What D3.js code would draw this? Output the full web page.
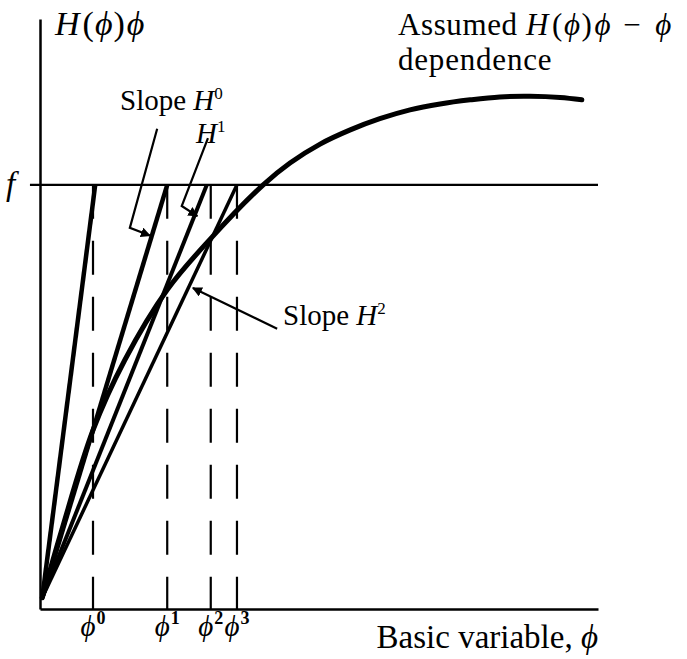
<!DOCTYPE html>
<html>
<head>
<meta charset="utf-8">
<script src="https://cdn.jsdelivr.net/npm/d3@7"></script>
<style>
  body { margin: 0; background: #fff; }
  svg text, svg tspan { font-family: "Liberation Serif", "DejaVu Serif", serif; fill: #000; }
  .it { font-style: italic; }
</style>
</head>
<body>
<svg id="chart" width="687" height="659"></svg>
<script>
// assumed H(phi)phi - phi curve
var curvePhi  = [0.04, 0.39, 0.95, 1.52, 2.28, 3.05, 4.00, 4.48, 5.02, 5.56, 6.09, 6.63, 7.17, 7.71, 8.24, 8.78, 9.32, 9.71];
var curveHphi = [0.19, 1.34, 3.03, 4.22, 5.41, 6.27, 7.19, 7.56, 7.88, 8.12, 8.31, 8.46, 8.56, 8.63, 8.68, 8.69, 8.67, 8.63];

var fLevel = 7.19;
var phiIter = [0.95, 2.28, 3.06, 3.53];      // phi^0 .. phi^3
var phiSup = ["0", "1", "2", "3"];
var secantEnds = [0.99, 2.28, 2.99, 3.53];   // where each slope line hits f
var secantWidth = [4.5, 4.5, 4, 3.5];

// leader lines for the slope labels (phi, Hphi)
var leaderH0 = [[2.10, 8.14], [1.61, 6.46], [1.97, 6.33]];
var leaderH1 = [[3.01, 7.98], [2.54, 6.83], [2.82, 6.66]];
var leaderH2 = [[4.25, 4.75], [2.74, 5.44]];

var PHI = "\u03D5";

var svg = d3.select("#chart");

var x = d3.scaleLinear().domain([0, 10]).range([40, 598]);
var y = d3.scaleLinear().domain([0, 10]).range([609, 19]);

svg.append("defs").append("marker")
    .attr("id", "arr")
    .attr("viewBox", "0 0 10 10")
    .attr("refX", 9).attr("refY", 5)
    .attr("markerWidth", 10).attr("markerHeight", 10)
    .attr("markerUnits", "userSpaceOnUse")
    .attr("orient", "auto")
  .append("path")
    .attr("d", "M0,0 L10,5 L0,10 z")
    .attr("fill", "#000");

// axes: only the lines, no ticks
svg.append("g")
    .attr("transform", "translate(0," + y(0) + ")")
    .call(d3.axisBottom(x).tickValues([]).tickSizeOuter(0));
svg.append("g")
    .attr("transform", "translate(" + x(0) + ",0)")
    .call(d3.axisLeft(y).tickValues([]).tickSizeOuter(0));
svg.selectAll(".domain").attr("stroke", "#000").attr("stroke-width", 2.5);

// f level
svg.append("line")
    .attr("x1", x(-0.18)).attr("x2", x(10))
    .attr("y1", y(fLevel)).attr("y2", y(fLevel))
    .attr("stroke", "#000").attr("stroke-width", 2.2);

// dashed verticals at the iterates
svg.selectAll(".drop").data(phiIter).enter().append("line")
    .attr("class", "drop")
    .attr("x1", function(d) { return x(d); })
    .attr("x2", function(d) { return x(d); })
    .attr("y1", y(fLevel)).attr("y2", y(0))
    .attr("stroke", "#000").attr("stroke-width", 2.2)
    .attr("stroke-dasharray", "34,22");

// slope lines from the origin of the curve
svg.selectAll(".sec").data(secantEnds).enter().append("line")
    .attr("class", "sec")
    .attr("x1", x(curvePhi[0])).attr("y1", y(curveHphi[0]))
    .attr("x2", function(d) { return x(d); })
    .attr("y2", y(fLevel))
    .attr("stroke", "#000")
    .attr("stroke-width", function(d, i) { return secantWidth[i]; });

// the curve
var pts = curvePhi.map(function(p, i) { return [p, curveHphi[i]]; });
var line = d3.line()
    .x(function(d) { return x(d[0]); })
    .y(function(d) { return y(d[1]); })
    .curve(d3.curveCatmullRom);
svg.append("path")
    .attr("d", line(pts))
    .attr("fill", "none").attr("stroke", "#000")
    .attr("stroke-width", 5).attr("stroke-linecap", "round");

// leaders
var plain = d3.line().x(function(d) { return x(d[0]); }).y(function(d) { return y(d[1]); });
[leaderH0, leaderH1, leaderH2].forEach(function(l) {
    svg.append("path")
        .attr("d", plain(l))
        .attr("fill", "none").attr("stroke", "#000").attr("stroke-width", 2.2)
        .attr("marker-end", "url(#arr)");
});

// H(phi)phi written out with a little room between the pieces
function hphi(t) {
    t.append("tspan").attr("class", "it").text("H");
    t.append("tspan").attr("dx", 3).text("(");
    t.append("tspan").attr("dx", 1).attr("class", "it").text(PHI);
    t.append("tspan").attr("dx", 1).text(")");
    t.append("tspan").attr("dx", 2).attr("class", "it").text(PHI);
}

// labels
var yl = svg.append("text").attr("x", 55).attr("y", 35).style("font-size", "34px");
hphi(yl);

svg.append("text").attr("class", "it").attr("x", 6).attr("y", 195)
    .style("font-size", "33px").text("f");

var s0 = svg.append("text").attr("x", 120).attr("y", 110).style("font-size", "29px");
s0.append("tspan").text("Slope ");
s0.append("tspan").attr("class", "it").text("H");
s0.append("tspan").attr("dy", -11).style("font-size", "17px").text("0");

var s1 = svg.append("text").attr("x", 196).attr("y", 143).style("font-size", "29px");
s1.append("tspan").attr("class", "it").text("H");
s1.append("tspan").attr("dy", -11).style("font-size", "17px").text("1");

var s2 = svg.append("text").attr("x", 283).attr("y", 325).style("font-size", "29px");
s2.append("tspan").text("Slope ");
s2.append("tspan").attr("class", "it").text("H");
s2.append("tspan").attr("dy", -11).style("font-size", "17px").text("2");

var a1 = svg.append("text").attr("x", 398).attr("y", 35)
    .style("font-size", "31px").style("letter-spacing", "0.6px");
a1.append("tspan").text("Assumed ");
hphi(a1);
a1.append("tspan").attr("dx", 12).text("\u2212");
a1.append("tspan").attr("dx", 14).attr("class", "it").text(PHI);
svg.append("text").attr("x", 398).attr("y", 70)
    .style("font-size", "31px").style("letter-spacing", "0.8px").text("dependence");

// iterate labels under the axis
svg.selectAll(".plab").data(phiIter).enter().append("text")
    .attr("class", "plab")
    .attr("x", function(d) { return x(d); })
    .attr("y", 636)
    .attr("text-anchor", "middle")
    .style("font-size", "29px")
    .each(function(d, i) {
        var t = d3.select(this);
        t.append("tspan").attr("class", "it").text(PHI);
        t.append("tspan").attr("dx", 1).attr("dy", -12).style("font-size", "18px").style("font-weight", "bold").text(phiSup[i]);
    });

var xl = svg.append("text").attr("x", 598).attr("y", 648)
    .attr("text-anchor", "end").style("font-size", "33px");
xl.append("tspan").text("Basic variable, ");
xl.append("tspan").attr("class", "it").text(PHI);
</script>
</body>
</html>
